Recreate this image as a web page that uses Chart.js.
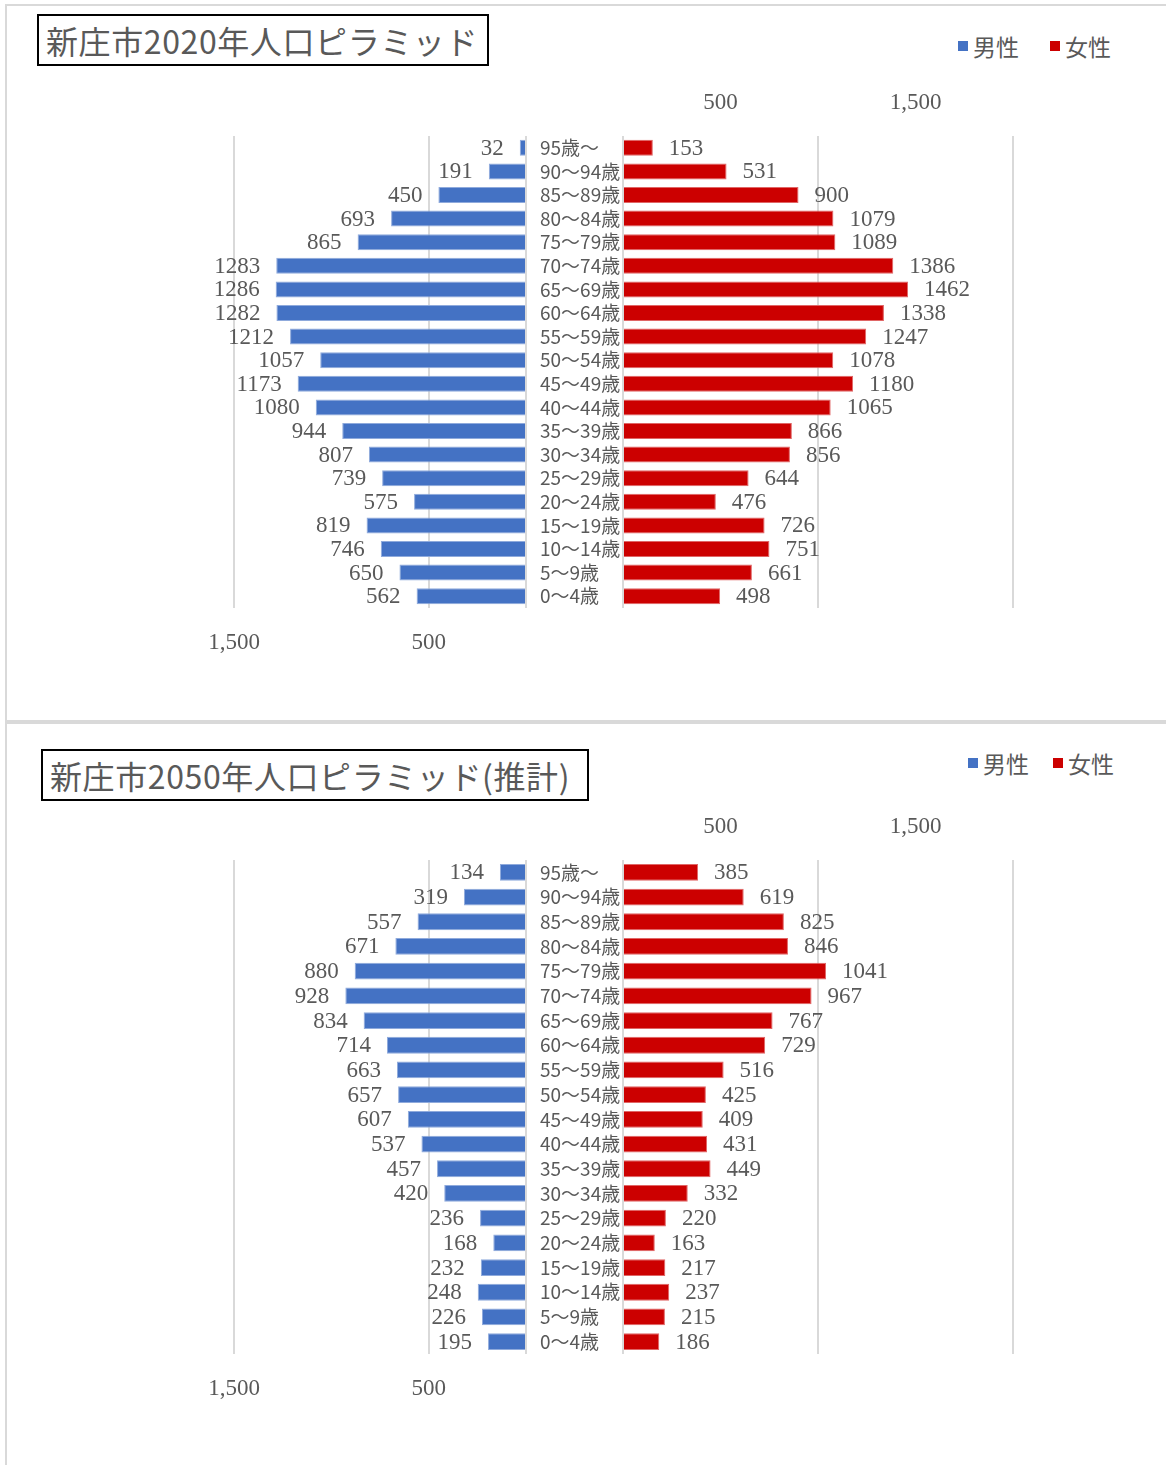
<!DOCTYPE html>
<html lang="ja">
<head>
<meta charset="utf-8">
<title>新庄市人口ピラミッド</title>
<script src="https://cdn.jsdelivr.net/npm/chart.js@4/dist/chart.umd.min.js"></script>
<style>
  body { margin: 0; background: #fff; width: 1166px; height: 1465px; position: relative; overflow: hidden;
         font-family: "Noto Sans CJK JP", sans-serif; color: #595959; }
  .panel { position: absolute; left: 5px; width: 1170px; border: 2px solid #d9d9d9; border-right: none; }
  .title { position: absolute; border: 2px solid #000; font-size: 32px; line-height: 48px; height: 48px;
           padding-left: 7px; color: #595959; white-space: nowrap; box-sizing: content-box; letter-spacing: 0.6px; }
  .legend { position: absolute; font-size: 23px; line-height: 30px; display: flex; align-items: center; white-space: nowrap; }
  .legend i { display: inline-block; width: 10px; height: 10px; margin-right: 5px; }
  canvas { position: absolute; }
</style>
</head>
<body>
<div class="panel" style="top:4px;height:716px;"></div>
<div class="panel" style="top:720px;height:760px;border-bottom:none;"></div>

<div class="title" style="left:37px;top:14px;width:441px;">新庄市2020年人口ピラミッド</div>
<div class="legend" style="left:958px;top:31px;"><i style="background:#4472C4"></i>男性</div>
<div class="legend" style="left:1050px;top:31px;"><i style="background:#CC0000"></i>女性</div>

<div class="title" style="left:41px;top:749px;width:537px;">新庄市2050年人口ピラミッド(推計)</div>
<div class="legend" style="left:968px;top:748px;"><i style="background:#4472C4"></i>男性</div>
<div class="legend" style="left:1053px;top:748px;"><i style="background:#CC0000"></i>女性</div>

<canvas id="male2020"></canvas>
<canvas id="female2020"></canvas>
<canvas id="male2050"></canvas>
<canvas id="female2050"></canvas>

<script>
// age groups, top row first
const ageGroups = ['95歳～', '90～94歳', '85～89歳', '80～84歳', '75～79歳', '70～74歳', '65～69歳',
  '60～64歳', '55～59歳', '50～54歳', '45～49歳', '40～44歳', '35～39歳', '30～34歳', '25～29歳',
  '20～24歳', '15～19歳', '10～14歳', '5～9歳', '0～4歳'];

const male2020 = [32, 191, 450, 693, 865, 1283, 1286, 1282, 1212, 1057, 1173, 1080, 944, 807, 739, 575, 819, 746, 650, 562];
const female2020 = [153, 531, 900, 1079, 1089, 1386, 1462, 1338, 1247, 1078, 1180, 1065, 866, 856, 644, 476, 726, 751, 661, 498];
const male2050 = [134, 319, 557, 671, 880, 928, 834, 714, 663, 657, 607, 537, 457, 420, 236, 168, 232, 248, 226, 195];
const female2050 = [385, 619, 825, 846, 1041, 967, 767, 729, 516, 425, 409, 431, 449, 332, 220, 163, 217, 237, 215, 186];

// axis ticks
const tickLabels = [500, 1500];
const maleGrid = [0, 500, 1500];
const femaleGrid = [0, 1000, 2000];

const TEXT = '#595959';
const GRID = '#d9d9d9';
const numFont = { family: '"Liberation Serif", "Times New Roman", serif', size: 23 };

// draws the value beside the end of each bar
const valueLabels = {
  id: 'valueLabels',
  afterDatasetsDraw(chart, args, opts) {
    const ctx = chart.ctx;
    const data = chart.data.datasets[0].data;
    ctx.save();
    ctx.font = '23px "Liberation Serif", "Times New Roman", serif';
    ctx.fillStyle = TEXT;
    ctx.textBaseline = 'middle';
    ctx.textAlign = opts.side === 'left' ? 'right' : 'left';
    chart.getDatasetMeta(0).data.forEach((bar, i) => {
      const x = opts.side === 'left' ? bar.x - 16 : bar.x + 16;
      ctx.fillText(String(data[i]), x, bar.y + 1);
    });
    ctx.restore();
  }
};

function tickText(value) {
  return tickLabels.includes(value) ? value.toLocaleString('en-US') : '';
}

function place(canvas, left, top, w, h) {
  canvas.width = w;
  canvas.height = h;
  canvas.style.left = left + 'px';
  canvas.style.top = top + 'px';
}

function pyramid(maleId, femaleId, males, females, areaTop, areaBottom) {
  const areaH = areaBottom - areaTop;

  // male side, reversed axis, ticks below
  const mc = document.getElementById(maleId);
  place(mc, 150, areaTop - 36, 396, areaH + 36 + 60);
  new Chart(mc, {
    type: 'bar',
    data: {
      labels: ageGroups,
      datasets: [{
        label: '男性',
        data: males,
        backgroundColor: '#4472C4',
        borderColor: '#8FAADC',
        borderWidth: 1,
        categoryPercentage: 1,
        barPercentage: 0.68
      }]
    },
    options: {
      responsive: false,
      animation: false,
      indexAxis: 'y',
      layout: { padding: { left: 84, right: 20, top: 36, bottom: 0 } },
      plugins: { legend: { display: false }, tooltip: { enabled: false }, valueLabels: { side: 'left' } },
      scales: {
        x: {
          reverse: true, min: 0, max: 1500, position: 'bottom',
          ticks: { stepSize: 500, padding: 0, color: TEXT, font: numFont, maxRotation: 0, callback: tickText },
          grid: {
            drawTicks: true, tickLength: 21, tickColor: 'transparent', lineWidth: 2,
            color: c => maleGrid.includes(c.tick && c.tick.value) ? GRID : 'transparent'
          },
          border: { display: false },
          afterFit: s => { s.height = 60; }
        },
        y: { display: false }
      }
    },
    plugins: [valueLabels]
  });

  // female side, age labels on its left, ticks above
  const fc = document.getElementById(femaleId);
  place(fc, 540, areaTop - 76, 560, areaH + 76 + 14);
  new Chart(fc, {
    type: 'bar',
    data: {
      labels: ageGroups,
      datasets: [{
        label: '女性',
        data: females,
        backgroundColor: '#CC0000',
        borderColor: '#E06666',
        borderWidth: 1,
        categoryPercentage: 1,
        barPercentage: 0.68
      }]
    },
    options: {
      responsive: false,
      animation: false,
      indexAxis: 'y',
      layout: { padding: { left: 0, right: 87, top: 0, bottom: 14 } },
      plugins: { legend: { display: false }, tooltip: { enabled: false }, valueLabels: { side: 'right' } },
      scales: {
        x: {
          min: 0, max: 2000, position: 'top',
          ticks: { stepSize: 500, padding: 0, color: TEXT, font: numFont, maxRotation: 0, callback: tickText },
          grid: {
            drawTicks: true, tickLength: 19, tickColor: 'transparent', lineWidth: 2,
            color: c => femaleGrid.includes(c.tick && c.tick.value) ? GRID : 'transparent'
          },
          border: { display: false },
          afterFit: s => { s.height = 76; }
        },
        y: {
          position: 'left',
          ticks: {
            crossAlign: 'far', autoSkip: false, padding: 0, color: TEXT,
            font: { family: '"Noto Sans CJK JP", sans-serif', size: 19 }
          },
          grid: { display: false },
          border: { display: false },
          afterFit: s => { s.width = 83; }
        }
      }
    },
    plugins: [valueLabels]
  });
}

pyramid('male2020', 'female2020', male2020, female2020, 136, 608);
pyramid('male2050', 'female2050', male2050, female2050, 860, 1354);
</script>
</body>
</html>
